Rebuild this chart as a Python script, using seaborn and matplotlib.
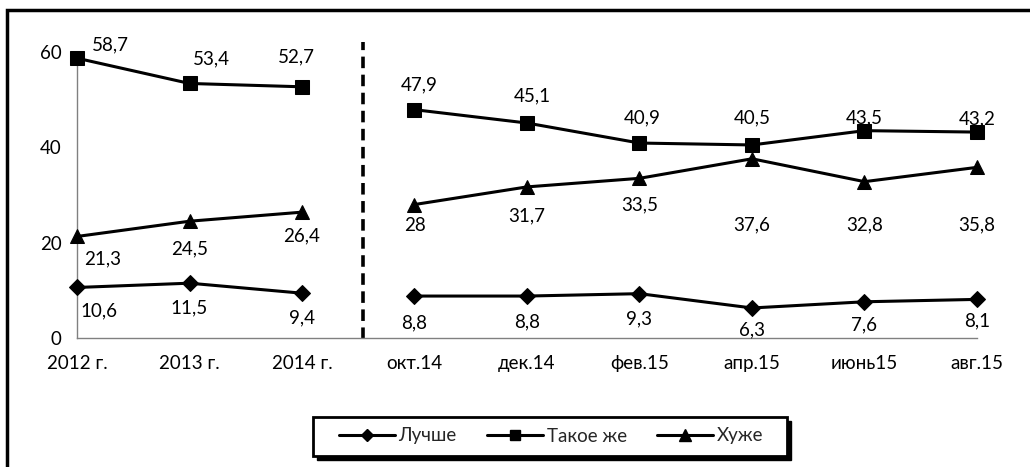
import pandas as pd
import matplotlib.pyplot as plt
import seaborn as sns
from matplotlib.lines import Line2D
from matplotlib.patches import Rectangle

# --------------------------
# Data
# --------------------------
periods = ["2012 г.", "2013 г.", "2014 г.", "окт.14", "дек.14",
           "фев.15", "апр.15", "июнь15", "авг.15"]
segment = [0, 0, 0, 1, 1, 1, 1, 1, 1]   # yearly part / monthly part

better = [10.6, 11.5, 9.4, 8.8, 8.8, 9.3, 6.3, 7.6, 8.1]
same = [58.7, 53.4, 52.7, 47.9, 45.1, 40.9, 40.5, 43.5, 43.2]
worse = [21.3, 24.5, 26.4, 28, 31.7, 33.5, 37.6, 32.8, 35.8]

series_names = ["Лучше", "Такое же", "Хуже"]
series_values = [better, same, worse]

# label offsets in pixels (dx, dy) per point
off_better = [(22, -23), (0, -25), (0, -25), (0, -27), (0, -26), (0, -25), (0, -22), (0, -23), (0, -21)]
off_same = [(33, 13), (22, 25), (-6, 30), (5, 25), (5, 27), (3, 25), (0, 27), (0, 13), (0, 13)]
off_worse = [(26, -22), (0, -28), (0, -24), (0, -21), (0, -29), (0, -27), (0, -66), (0, -43), (0, -58)]
offsets = [off_better, off_same, off_worse]

markers = {"Лучше": "D", "Такое же": "s", "Хуже": "^"}
msizes = {"Лучше": 8, "Такое же": 9.5, "Хуже": 10.5}

rows = []
for name, vals in zip(series_names, series_values):
    for i, v in enumerate(vals):
        rows.append({"x": i, "value": v, "series": name, "segment": segment[i]})
df = pd.DataFrame(rows)

# --------------------------
# Setup
# --------------------------
sns.set_theme(style="white")
plt.rcParams["font.family"] = ["Lato", "DejaVu Sans"]
FS = 13.5
plt.rcParams["font.size"] = FS

W, H = 1030, 467
fig = plt.figure(figsize=(W / 100, H / 100), dpi=100)
ax = fig.add_axes([77 / W, 1 - 338 / H, 900 / W, 286 / H])

for name in series_names:
    sub = df[df["series"] == name]
    sns.lineplot(data=sub, x="x", y="value", units="segment", estimator=None,
                 color="black", linewidth=2.2, marker=markers[name],
                 markersize=msizes[name], markeredgecolor="black",
                 markerfacecolor="black", ax=ax, legend=False)
for ln in ax.lines:
    ln.set_clip_on(False)
    ln.set_zorder(3)

# data labels with decimal comma
for name, vals, offs in zip(series_names, series_values, offsets):
    for i, (v, (dx, dy)) in enumerate(zip(vals, offs)):
        txt = f"{v:g}".replace(".", ",")
        ax.annotate(txt, (i, v), xytext=(dx, dy), textcoords="offset pixels",
                    ha="center", va="center", fontsize=FS, color="black")

# dashed separator between years and months
ax.plot([2.54, 2.54], [-0.3, 62], color="black", linestyle=(0, (3.2, 1.8)),
        linewidth=2.6, clip_on=False)

ax.set_xlim(0, 8)
ax.set_ylim(0, 60)
ax.set_yticks([0, 20, 40, 60])
ax.set_xticks(range(len(periods)))
ax.set_xticklabels(periods)
ax.set_xlabel("")
ax.set_ylabel("")
for s in ["top", "right"]:
    ax.spines[s].set_visible(False)
for s in ["left", "bottom"]:
    ax.spines[s].set_color("#808080")
    ax.spines[s].set_linewidth(1.0)
ax.tick_params(axis="both", which="both", direction="out", length=5, width=1,
               color="#808080", labelsize=FS, labelcolor="black")
ax.tick_params(axis="x", pad=7)
ax.tick_params(axis="y", pad=6)
ax.grid(False)

# legend box with hard shadow (drawn by hand, Excel style)
bx0, by0, bx1, by1 = 313, 417, 787, 456
shadow = Rectangle(((bx0 + 4) / W, 1 - (by1 + 4) / H), (bx1 - bx0) / W, (by1 - by0) / H,
                   transform=fig.transFigure, facecolor="black",
                   edgecolor="black", linewidth=1, zorder=1)
box = Rectangle((bx0 / W, 1 - by1 / H), (bx1 - bx0) / W, (by1 - by0) / H,
                transform=fig.transFigure, facecolor="white",
                edgecolor="black", linewidth=2.0, zorder=2)
fig.patches.extend([shadow, box])

handles = [Line2D([], [], color="black", linewidth=2.2, marker=markers[n],
                  markersize=msizes[n] * 0.8) for n in series_names]
leg = fig.legend(handles, series_names, loc="center", bbox_to_anchor=(551 / W, 1 - 436 / H),
                 ncol=3, frameon=False, handlelength=3.0,
                 handletextpad=0.2, columnspacing=1.6, fontsize=FS)
leg.set_zorder(10)

# outer chart border (extends past the right and bottom edges)
fig.patches.append(Rectangle((7 / W, -0.1), 1.1, 1 - 10 / H + 0.1,
                             transform=fig.transFigure, fill=False,
                             edgecolor="black", linewidth=2.5))

plt.savefig("out.png", dpi=100)
plt.close()
